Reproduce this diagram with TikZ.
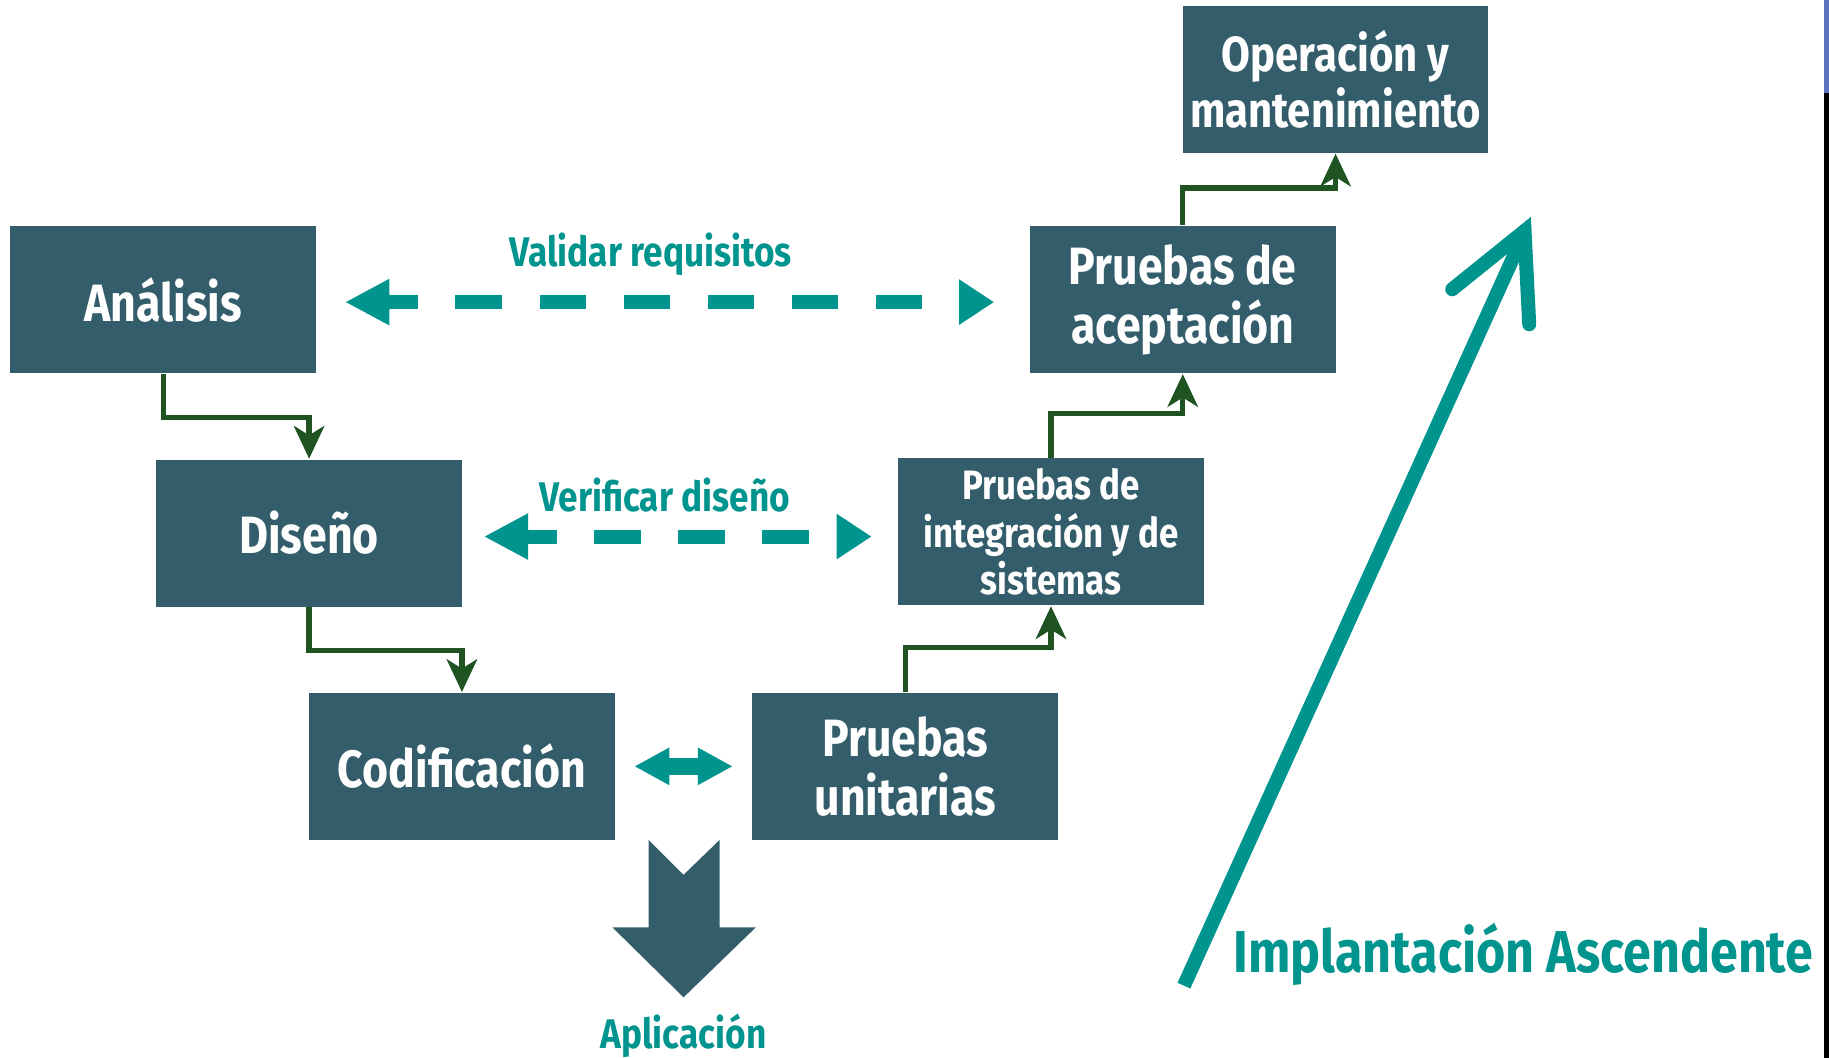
\documentclass[tikz,border=0pt]{standalone}
\usepackage{fontspec}
\setmainfont{Fira Sans}[FakeStretch=0.85]
\usetikzlibrary{arrows.meta}

\definecolor{caja}{HTML}{335D6A}
\definecolor{turquesa}{HTML}{00948F}
\definecolor{verde}{HTML}{1F5322}
\definecolor{franja}{HTML}{5A72C0}

\tikzset{
  fase/.style={fill=caja, text=white, minimum width=2.62cm, minimum height=1.26cm,
    inner sep=0pt, align=center, font=\bfseries\fontsize{12.8}{14.4}\selectfont},
  fasechica/.style={fase, font=\bfseries\fontsize{10}{11.6}\selectfont},
  paso/.style={verde, line width=1.3pt, -{Stealth[length=0.28cm,width=0.26cm,inset=0.08cm]}},
  control/.style={turquesa, line width=0.12cm, dash pattern=on 0.4cm off 0.32cm, dash phase=0.13cm,
    {Triangle[length=0.38cm,width=0.37cm]}-{Triangle[length=0.3cm,width=0.37cm]}},
  etiqueta/.style={text=turquesa, font=\bfseries\fontsize{10.1}{12}\selectfont}
}

\begin{document}
\begin{tikzpicture}[x=0.01cm, y=-0.01cm]
  \useasboundingbox (0,0) rectangle (1568,907);

  % Franja del borde
  \fill[franja] (1563.7,0) rectangle (1568,80);
  \fill[black] (1563.7,80) rectangle (1568,907);

  % Fases del modelo en V
  \node[fase] (analisis) at (140,257) {Análisis};
  \node[fase] (diseno) at (265,457) {Diseño};
  \node[fase] (codificacion) at (396,657) {Codificación};
  \node[fase] (unitarias) at (776,657) {Pruebas\\unitarias};
  \node[fasechica] (integracion) at (901,456) {Pruebas de\\integración y de\\sistemas};
  \node[fase] (aceptacion) at (1014,257) {Pruebas de\\aceptación};
  \node[fase, font=\bfseries\fontsize{12}{13.6}\selectfont] (operacion) at (1145,68) {Operación y\\mantenimiento};

  % Flechas verdes (bajada y subida)
  \draw[paso] (analisis.south) -- ++(0,37) -| (diseno.north);
  \draw[paso] (diseno.south) -- ++(0,37) -| (codificacion.north);
  \draw[paso] (unitarias.north) -- ++(0,-38) -| (integracion.south);
  \draw[paso] (integracion.north) -- ++(0,-38) -| (aceptacion.south);
  \draw[paso] (aceptacion.north) -- ++(0,-32) -| (operacion.south);

  % Validaciones
  \draw[control, shorten <=0.24cm, shorten >=0.3cm]
    ([yshift=-0.02cm]analisis.east) -- ([yshift=-0.02cm]aceptacion.west);
  \node[etiqueta] (validar) at (558,218) {Validar requisitos};
  \draw[control, shorten <=0.18cm, shorten >=0.22cm]
    ([yshift=-0.03cm]diseno.east) -- ([yshift=-0.04cm]integracion.west);
  \node[etiqueta] (verificar) at (570,424) {Verificar diseño};
  \draw[turquesa, line width=0.14cm, shorten <=0.16cm, shorten >=0.16cm,
    {Triangle[length=0.3cm,width=0.3cm]}-{Triangle[length=0.3cm,width=0.3cm]}] (codificacion) -- (unitarias);

  % Flecha gruesa hacia la aplicación
  \fill[caja] (556,720) -- (586,750) -- (617,720) -- (617,795) -- (648,795)
    -- (586,855) -- (525,795) -- (556,795) -- cycle;
  \node[etiqueta] (aplicacion) at (586,888) {Aplicación};

  % Implantación ascendente
  \coordinate (base) at (1015,845);
  \coordinate (punta) at (1307,198);
  \draw[turquesa, line width=0.12cm] (base) -- (1304,206);
  \draw[turquesa, line width=0.12cm, line cap=round, line join=miter]
    (1245,248) -- (punta) -- (1311,278);
  \node[text=turquesa, font=\bfseries\fontsize{14.4}{16}\selectfont] (ascendente) at (1306,818) {Implantación Ascendente};
\end{tikzpicture}
\end{document}
